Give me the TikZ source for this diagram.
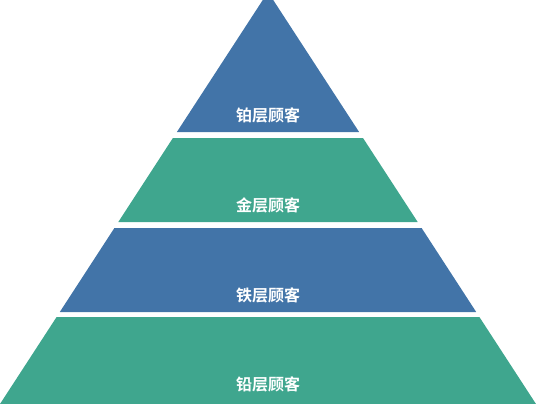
\documentclass[tikz,border=0pt]{standalone}
\usepackage{fontspec}
\newfontfamily\cjk{Noto Sans CJK SC Bold}
\usepackage{tikz}
\usetikzlibrary{calc}
\definecolor{tierblue}{RGB}{66,116,168}
\definecolor{tiergreen}{RGB}{63,166,142}

\begin{document}
\begin{tikzpicture}[
            x=1pt, y=-1pt,
            font=\cjk\fontsize{16}{19}\selectfont,
            tier/.style={text=white, anchor=center}
        ]
            \useasboundingbox (0,0) rectangle (536,404);
            \clip (0,0) rectangle (536,404);
            \coordinate (apex) at (268,-8);

            \fill[tierblue] (apex) -- (359.1,132) -- (176.9,132) -- cycle;
            \fill[tiergreen] (172.9,138) -- (363.0,138) -- (417.7,222) -- (118.3,222) -- cycle;
            \fill[tierblue] (114.4,228) -- (421.6,228) -- (476.2,312) -- (59.8,312) -- cycle;
            \fill[tiergreen] (56.6,317) -- (479.4,317) -- (536,404) -- (0,404) -- cycle;

            \node[tier] (platinum) at (268,115) {铂层顾客};
            \node[tier] (gold) at (268,205) {金层顾客};
            \node[tier] (iron) at (268,295) {铁层顾客};
            \node[tier] (lead) at (268,384) {铅层顾客};
        \end{tikzpicture}
\end{document}
